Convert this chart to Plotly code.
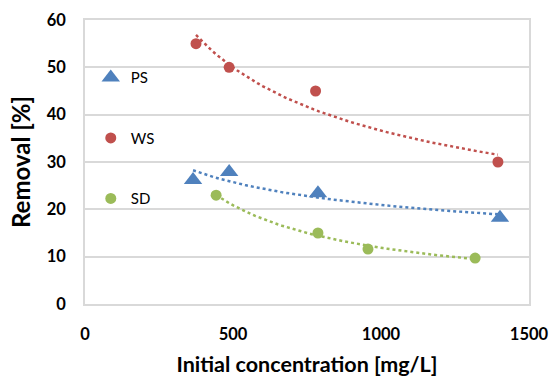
import numpy as np
import plotly.graph_objects as go

# Removal efficiency vs. initial concentration for three sorbents
ps_conc = [365, 487, 787, 1402]
ps_removal = [26.2, 27.9, 23.4, 18.2]

ws_conc = [375, 487, 779, 1395]
ws_removal = [55.0, 50.0, 45.0, 30.0]

sd_conc = [443, 787, 956, 1318]
sd_removal = [23.0, 15.0, 11.6, 9.7]

x_ticks = [0, 500, 1000, 1500]
y_ticks = [0, 10, 20, 30, 40, 50, 60]

BLUE = "#4F81BD"
RED = "#C0504D"
GREEN = "#9BBB59"
FONT = "Lato"


def power_trend(x, y, n=60):
    """Least-squares power-law trendline y = a * x^b over the data range."""
    lx, ly = np.log(x), np.log(y)
    b, ln_a = np.polyfit(lx, ly, 1)
    xs = np.linspace(min(x), max(x), n)
    return xs, np.exp(ln_a) * xs ** b


series = [
    ("PS", ps_conc, ps_removal, BLUE, "triangle-up", 16),
    ("WS", ws_conc, ws_removal, RED, "circle", 11),
    ("SD", sd_conc, sd_removal, GREEN, "circle", 11),
]

fig = go.Figure()
for name, xv, yv, color, symbol, size in series:
    tx, ty = power_trend(xv, yv)
    fig.add_trace(go.Scatter(
        x=tx, y=ty, mode="lines", showlegend=False, hoverinfo="skip",
        line=dict(color=color, width=2.5, dash="dot"),
    ))
for name, xv, yv, color, symbol, size in series:
    fig.add_trace(go.Scatter(
        x=xv, y=yv, mode="markers", name=name, legendgroup=name,
        marker=dict(color=color, symbol=symbol, size=size),
    ))

axis_common = dict(
    showline=True, linecolor="#D9D9D9", linewidth=1.5, mirror=True,
    ticks="", automargin=False,
    tickfont=dict(family=FONT, size=16.5, color="#000000", weight="bold"),
    zeroline=False,
)

fig.update_layout(
    width=551, height=377,
    margin=dict(l=85, r=22, t=20, b=73),
    paper_bgcolor="white", plot_bgcolor="white",
    font=dict(family=FONT, color="#000000"),
    showlegend=True,
    legend=dict(
        x=0.013, y=0.855, xanchor="left", yanchor="top",
        bgcolor="rgba(0,0,0,0)", tracegroupgap=38,
        font=dict(family=FONT, size=15, color="#000000"),
        itemwidth=30,
    ),
    xaxis=dict(
        range=[0, 1500], tickvals=x_ticks, showgrid=False,
        ticklabelstandoff=14,
        title=dict(text="Initial concentration [mg/L]", standoff=15,
                   font=dict(family=FONT, size=21.5, color="#000000", weight="bold")),
        **axis_common,
    ),
    yaxis=dict(
        range=[0, 60], tickvals=y_ticks, showgrid=True, gridcolor="#D9D9D9",
        gridwidth=1.5, ticklabelstandoff=14,
        title=dict(text="Removal [%]", standoff=9,
                   font=dict(family=FONT, size=24, color="#000000", weight="bold")),
        **axis_common,
    ),
)

fig.write_html("out.html")
